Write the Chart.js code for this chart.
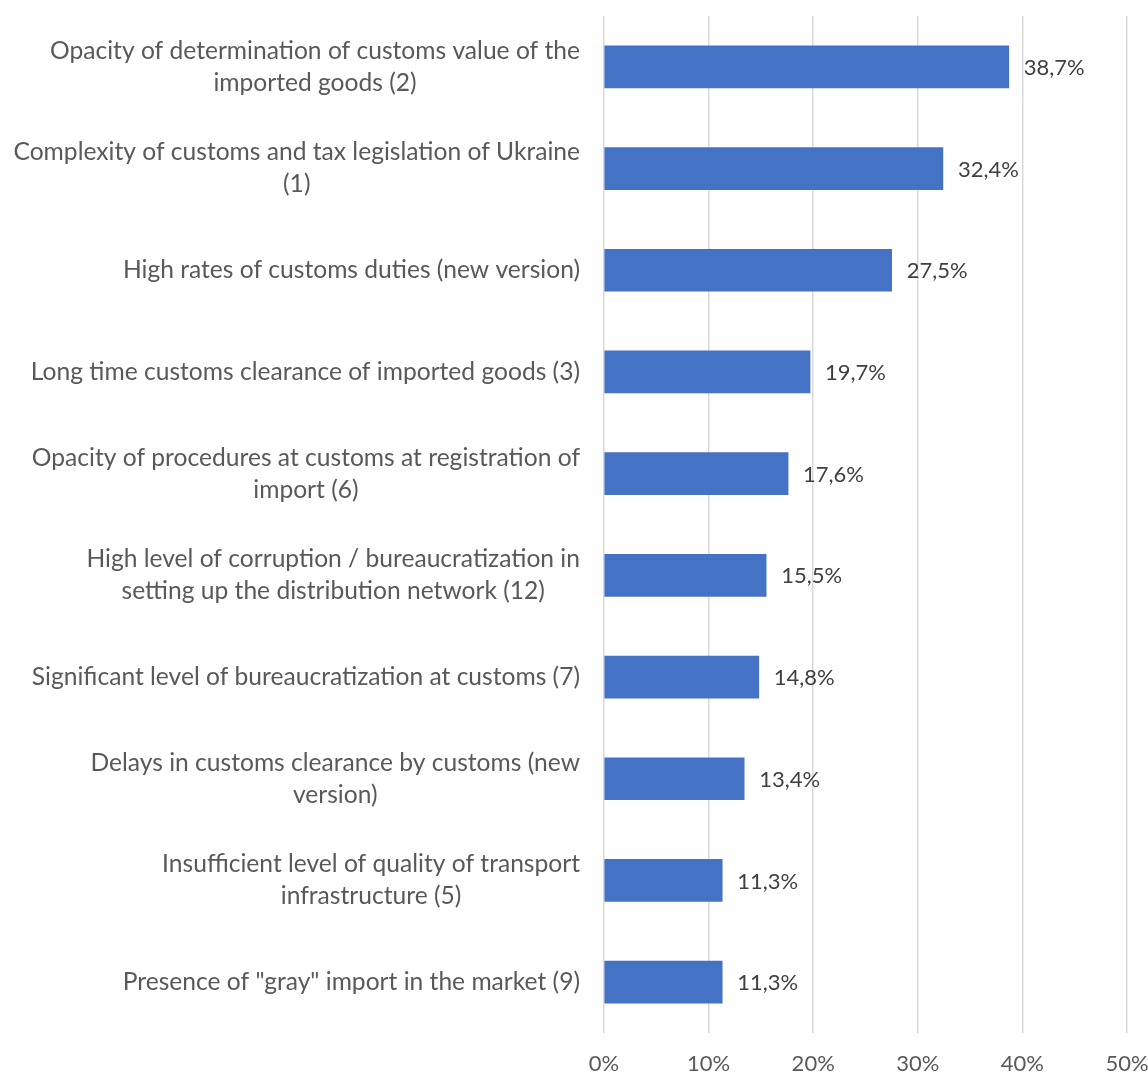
<!DOCTYPE html>
<html>
<head>
<meta charset="utf-8">
<title>Customs barriers</title>
<script src="https://cdn.jsdelivr.net/npm/chart.js@4/dist/chart.umd.min.js"></script>
<style>
  html, body { margin: 0; padding: 0; background: #fff; }
  #wrap { width: 1148px; height: 1073px; position: relative; }
</style>
</head>
<body>
<div id="wrap"><canvas id="barChart"></canvas></div>
<script>
// --- data ---
var CATEGORIES = [
  ['Opacity of determination of customs value of the', 'imported goods (2)'],
  ['Complexity of customs and tax legislation of Ukraine', '(1)'],
  ['High rates of customs duties (new version)'],
  ['Long time customs clearance of imported goods (3)'],
  ['Opacity of procedures at customs at registration of', 'import (6)'],
  ['High level of corruption / bureaucratization in', 'setting up the distribution network (12)'],
  ['Significant level of bureaucratization at customs (7)'],
  ['Delays in customs clearance by customs (new', 'version)'],
  ['Insufficient level of quality of transport', 'infrastructure (5)'],
  ['Presence of "gray" import in the market (9)']
];
var SHARES = [38.7, 32.4, 27.5, 19.7, 17.6, 15.5, 14.8, 13.4, 11.3, 11.3];
var X_TICKS = [0, 10, 20, 30, 40, 50];

var FONT_FAMILY = 'Lato, "Open Sans", sans-serif';
var TEXT_COLOR  = '#595959';
var LABEL_FONT  = '24.6px ' + FONT_FAMILY;
var LINE_HEIGHT = 32;

function fmtPct(v) {
  return v.toFixed(1).replace('.', ',') + '%';
}

// category labels: block right-aligned to the axis, lines centred within the block
var categoryLabels = {
  id: 'categoryLabels',
  afterDraw: function (chart) {
    var ctx   = chart.ctx;
    var yAxis = chart.scales.y;
    var right = chart.chartArea.left - 24;
    ctx.save();
    ctx.font = LABEL_FONT;
    ctx.fillStyle = TEXT_COLOR;
    ctx.textAlign = 'center';
    ctx.textBaseline = 'middle';
    CATEGORIES.forEach(function (lines, i) {
      var w = 0;
      lines.forEach(function (t) { w = Math.max(w, ctx.measureText(t).width); });
      var cx = right - w / 2;
      var cy = yAxis.getPixelForValue(i);
      var y0 = cy - (lines.length - 1) * LINE_HEIGHT / 2;
      lines.forEach(function (t, k) {
        ctx.fillText(t, cx, y0 + k * LINE_HEIGHT);
      });
    });
    ctx.restore();
  }
};

// value labels to the right of each bar
var barValueLabels = {
  id: 'barValueLabels',
  afterDatasetsDraw: function (chart) {
    var ctx  = chart.ctx;
    var meta = chart.getDatasetMeta(0);
    ctx.save();
    ctx.font = '22px ' + FONT_FAMILY;
    ctx.fillStyle = '#404040';
    ctx.textAlign = 'left';
    ctx.textBaseline = 'middle';
    meta.data.forEach(function (bar, i) {
      ctx.fillText(fmtPct(SHARES[i]), bar.x + 15, bar.y + 1);
    });
    ctx.restore();
  }
};

var ctx = document.getElementById('barChart').getContext('2d');
new Chart(ctx, {
  type: 'bar',
  data: {
    labels: CATEGORIES,
    datasets: [{
      data: SHARES,
      backgroundColor: '#4472C4',
      barThickness: 42
    }]
  },
  plugins: [barValueLabels, categoryLabels],
  options: {
    indexAxis: 'y',
    responsive: true,
    maintainAspectRatio: false,
    animation: false,
    layout: { padding: { top: 16, right: 0, bottom: 0, left: 0 } },
    plugins: {
      legend:  { display: false },
      tooltip: { enabled: false }
    },
    scales: {
      x: {
        min: 0,
        max: 50,
        afterBuildTicks: function (s) {
          s.ticks = X_TICKS.map(function (v) { return { value: v }; });
        },
        afterFit: function (s) {
          s.height = 40;
          s.paddingLeft = 0;
          s.paddingRight = 21;
        },
        border: { display: false },
        grid: { color: '#d9d9d9', lineWidth: 1.5, drawTicks: false },
        ticks: {
          padding: 18,
          color: TEXT_COLOR,
          font: { family: FONT_FAMILY, size: 22 },
          callback: function (v) { return v + '%'; }
        }
      },
      y: {
        afterFit: function (s) { s.width = 604; },
        border: { display: false },
        grid: { display: false, drawTicks: false },
        ticks: { display: false }
      }
    }
  }
});
</script>
</body>
</html>
